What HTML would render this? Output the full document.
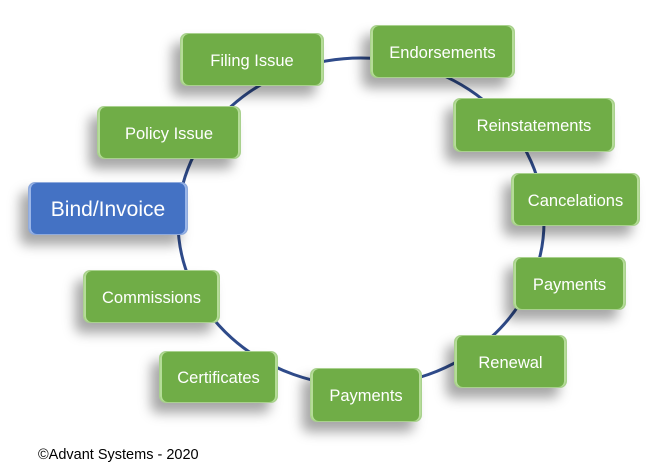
<!DOCTYPE html>
<html><head><style>
body{margin:0;width:648px;height:468px;background:#fff;position:relative;overflow:hidden;font-family:"Liberation Sans",sans-serif}
.b{position:absolute;background:#70ad47;border:1px solid #a9d18e;border-radius:7px;color:#fff;display:flex;align-items:center;justify-content:center;font-size:16.5px;padding-top:3px;box-shadow:-8px 10px 12px rgba(0,0,0,0.35), inset 2px 0 0 #b5dc98, inset -2px 0 0 #b5dc98;box-sizing:border-box}
.blue{background:#4472c4;border-color:#8faadc;font-size:21px;box-shadow:-8px 10px 12px rgba(0,0,0,0.35), inset 2px 0 0 #9bb6e8, inset -2px 0 0 #9bb6e8}
svg{position:absolute;left:0;top:0}
.c{position:absolute;left:38px;top:447px;font-size:14.5px;color:#000}
</style></head><body>
<svg width="648" height="468"><ellipse cx="361" cy="222" rx="183" ry="164" fill="none" stroke="#2f4b8a" stroke-width="3"/></svg>
<div class="b" style="left:180px;top:33px;width:144px;height:53px">Filing Issue</div>
<div class="b" style="left:370px;top:25px;width:145px;height:53px">Endorsements</div>
<div class="b" style="left:97px;top:106px;width:144px;height:53px">Policy Issue</div>
<div class="b" style="left:453px;top:98px;width:162px;height:54px">Reinstatements</div>
<div class="b blue" style="left:28px;top:182px;width:160px;height:53px">Bind/Invoice</div>
<div class="b" style="left:511px;top:173px;width:129px;height:53px">Cancelations</div>
<div class="b" style="left:513px;top:257px;width:113px;height:53px">Payments</div>
<div class="b" style="left:83px;top:270px;width:137px;height:53px">Commissions</div>
<div class="b" style="left:454px;top:335px;width:113px;height:53px">Renewal</div>
<div class="b" style="left:159px;top:351px;width:119px;height:52px">Certificates</div>
<div class="b" style="left:310px;top:368px;width:112px;height:54px">Payments</div>
<div class="c">©Advant Systems - 2020</div>
</body></html>
